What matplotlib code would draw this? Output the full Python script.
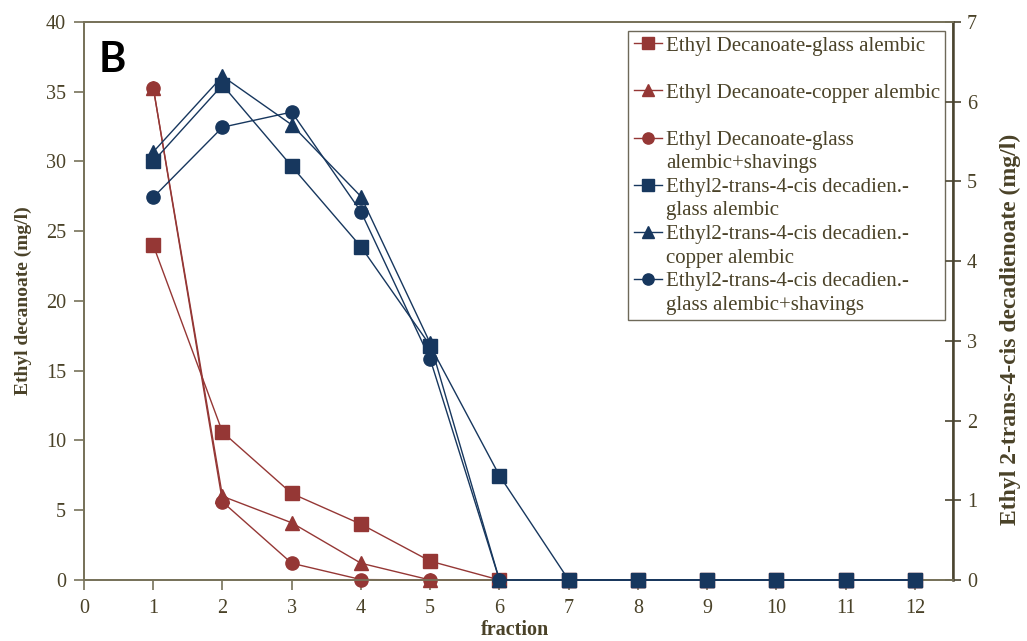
import matplotlib
matplotlib.use("Agg")
import matplotlib.pyplot as plt
from matplotlib.lines import Line2D

##### DATA #####
fraction = [1, 2, 3, 4, 5, 6, 7, 8, 9, 10, 11, 12]

# Ethyl decanoate (left axis, mg/l)
dec_glass = [24.0, 10.6, 6.2, 4.0, 1.35, 0, 0, 0, 0, 0, 0, 0]
dec_copper = [35.3, 6.0, 4.1, 1.2, 0, 0, 0, 0, 0, 0, 0, 0]
dec_shavings = [35.3, 5.6, 1.2, 0.03, 0, 0, 0, 0, 0, 0, 0, 0]

# Ethyl 2-trans-4-cis decadienoate (right axis, mg/l)
dad_glass = [5.25, 6.21, 5.19, 4.18, 2.94, 1.31, 0, 0, 0, 0, 0, 0]
dad_copper = [5.37, 6.32, 5.71, 4.81, 2.97, 0, 0, 0, 0, 0, 0, 0]
dad_shavings = [4.80, 5.68, 5.87, 4.62, 2.77, 0, 0, 0, 0, 0, 0, 0]

x_ticks = list(range(0, 13))
left_ticks = [0, 5, 10, 15, 20, 25, 30, 35, 40]
right_ticks = [0, 1, 2, 3, 4, 5, 6, 7]

# legend rows: (marker, colour, text); rows without marker are wrapped lines
legend_rows = [
    ("s", "red", "Ethyl Decanoate-glass alembic"),
    (None, None, " "),
    ("^", "red", "Ethyl Decanoate-copper alembic"),
    (None, None, " "),
    ("o", "red", "Ethyl Decanoate-glass"),
    (None, None, "alembic+shavings"),
    ("s", "blue", "Ethyl2-trans-4-cis decadien.-"),
    (None, None, "glass alembic"),
    ("^", "blue", "Ethyl2-trans-4-cis decadien.-"),
    (None, None, "copper alembic"),
    ("o", "blue", "Ethyl2-trans-4-cis decadien.-"),
    (None, None, "glass alembic+shavings"),
]

#### STYLE #####
RED = "#953735"
BLUE = "#17375E"
TXT = "#4a4228"
FRAME = "#77725a"
FRAME_DARK = "#4a4430"
colors = {"red": RED, "blue": BLUE}

plt.rcParams["font.family"] = ["Liberation Serif", "DejaVu Serif"]

fig = plt.figure(figsize=(10.27, 6.41), dpi=100)
ax = fig.add_axes([0.0818, 0.0952, 0.8461, 0.8705])
ax2 = ax.twinx()

ms = {"s": 10, "^": 9.5, "o": 9.5}

def draw(a, y, marker, color):
    a.plot(fraction, y, color=color, marker=marker, markersize=ms[marker],
           linewidth=1.0, clip_on=False, zorder=3)

draw(ax, dec_glass, "s", RED)
draw(ax, dec_copper, "^", RED)
draw(ax, dec_shavings, "o", RED)
draw(ax2, dad_glass, "s", BLUE)
draw(ax2, dad_copper, "^", BLUE)
draw(ax2, dad_shavings, "o", BLUE)

ax.set_xlim(0, 12.55)
ax.set_ylim(0, 40)
ax2.set_ylim(0, 7)
ax.set_xticks(x_ticks)
ax.set_yticks(left_ticks)
ax2.set_yticks(right_ticks)

for a in (ax, ax2):
    for s in a.spines.values():
        s.set_color(FRAME)
        s.set_linewidth(1.3)
ax2.spines["right"].set_color(FRAME_DARK)
ax2.spines["right"].set_linewidth(1.8)

ax.tick_params(axis="x", direction="out", length=7, width=1.2, color=FRAME,
               labelsize=14.5, labelcolor=TXT, pad=7)
ax.tick_params(axis="y", direction="out", length=7, width=1.2, color=FRAME,
               labelsize=14.5, labelcolor=TXT, pad=6)
ax2.tick_params(axis="y", direction="inout", length=12, width=1.2, color=FRAME_DARK,
                labelsize=14.5, labelcolor=TXT, pad=4)

ax.set_xlabel("fraction", fontsize=14.5, fontweight="bold", color=TXT)
ax.xaxis.set_label_coords(0.496, -0.071)
ax.set_ylabel("Ethyl decanoate (mg/l)", fontsize=14, fontweight="bold", color=TXT, labelpad=10)
ax2.set_ylabel("Ethyl 2-trans-4-cis decadienoate (mg/l)", fontsize=17,
               fontweight="bold", color=TXT)
ax2.yaxis.set_label_coords(1.054, 0.45)

ax.text(0.017, 0.910, "B", transform=ax.transAxes, fontsize=30, fontweight="bold",
        family="Lato", color="black", va="baseline", ha="left")

##### legend #####
handles = []
labels = []
for marker, col, text in legend_rows:
    if marker is None:
        handles.append(Line2D([], [], linestyle="none"))
    else:
        handles.append(Line2D([], [], color=colors[col], marker=marker,
                              markersize=ms[marker] * 0.85, linewidth=1.0))
    labels.append(text)

leg = ax2.legend(handles, labels, loc="upper right", bbox_to_anchor=(0.991, 0.984),
                 borderaxespad=0, fontsize=15.0, labelspacing=0.19, handlelength=1.35,
                 handletextpad=0.2, borderpad=0.25, frameon=True, fancybox=False)
leg.get_frame().set_edgecolor(FRAME_DARK)
leg.get_frame().set_linewidth(1.0)
for t in leg.get_texts():
    t.set_color(TXT)

fig.savefig("out.png", dpi=100)
